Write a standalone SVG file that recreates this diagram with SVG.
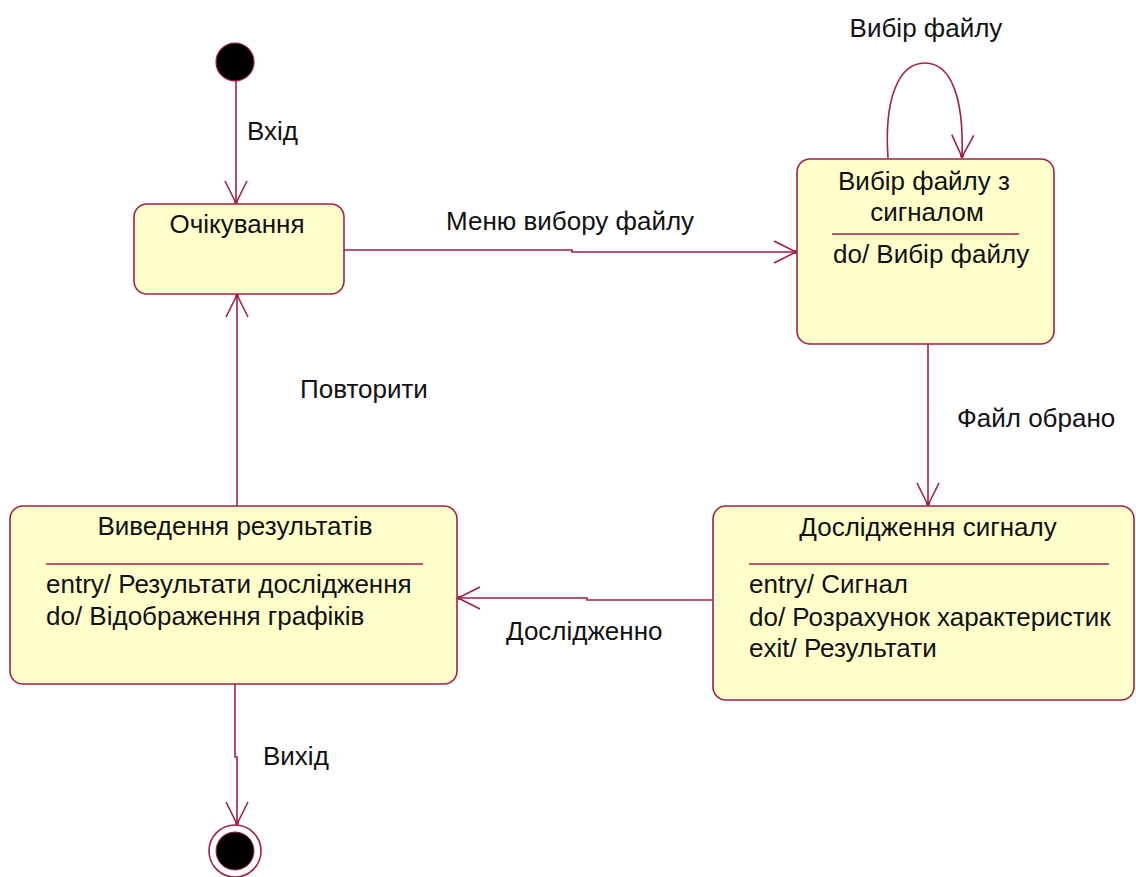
<svg xmlns="http://www.w3.org/2000/svg" width="1136" height="877" viewBox="0 0 1136 877">
<defs>
<style>
.st{fill:#FFFFCC;stroke:#A0204A;stroke-width:1.6}
.sep{stroke:#A0204A;stroke-width:1.6}
.cn{fill:none;stroke:#A0204A;stroke-width:1.6}
text{font-family:"Liberation Sans",Arial,sans-serif;font-size:26px;fill:#111}
.c{text-anchor:middle}
</style>
<marker id="arr" markerUnits="userSpaceOnUse" viewBox="-25 -15 30 30" refX="0" refY="0" markerWidth="30" markerHeight="30" orient="auto">
<path d="M-22,-11 L0,0 L-22,11" fill="none" stroke="#A0204A" stroke-width="1.6"/>
<circle cx="-1" cy="0" r="2" fill="#A0204A"/>
</marker>
</defs>
<rect width="1136" height="877" fill="#fff"/>
<g id="connectors">
<path class="cn" d="M236,80 L236,203" marker-end="url(#arr)"/>
<path class="cn" d="M344,250 L572,250 L572,252 L796,252" marker-end="url(#arr)"/>
<path class="cn" d="M888,158 C884,100 898,63 925,63 C952,63 964,100 962,157" marker-end="url(#arr)"/>
<path class="cn" d="M928,344 L928,505" marker-end="url(#arr)"/>
<path class="cn" d="M713,600 L587,600 L587,598 L458,598" marker-end="url(#arr)"/>
<path class="cn" d="M237,506 L237,295" marker-end="url(#arr)"/>
<path class="cn" d="M235,684 L235,757 L237,757 L237,824" marker-end="url(#arr)"/>
<text x="247" y="140">Вхід</text>
<text x="446" y="230">Меню вибору файлу</text>
<text x="926" y="37" class="c">Вибір файлу</text>
<text x="957" y="427">Файл обрано</text>
<text x="506" y="640">Дослідженно</text>
<text x="300" y="398">Повторити</text>
<text x="263" y="765">Вихід</text>
</g>
<g id="initial">
<circle cx="235" cy="62" r="19" fill="#000" stroke="#A0204A" stroke-width="1.2"/>
</g>
<g id="ochikuvannia">
<rect class="st" x="134" y="204" width="210" height="90" rx="13"/>
<text x="237" y="233" class="c">Очікування</text>
</g>
<g id="vybir">
<rect class="st" x="797" y="159" width="257" height="185" rx="13"/>
<text x="924" y="190" class="c">Вибір файлу з</text>
<text x="927" y="221" class="c">сигналом</text>
<line class="sep" x1="832" y1="234" x2="1019" y2="234"/>
<text x="833" y="263">do/ Вибір файлу</text>
</g>
<g id="doslidzhennia">
<rect class="st" x="713" y="506" width="421" height="194" rx="13"/>
<text x="928" y="536" class="c">Дослідження сигналу</text>
<line class="sep" x1="749" y1="564" x2="1109" y2="564"/>
<text x="749" y="593">entry/ Сигнал</text>
<text x="749" y="626">do/ Розрахунок характеристик</text>
<text x="749" y="657">exit/ Результати</text>
</g>
<g id="vyvedennia">
<rect class="st" x="10" y="506" width="447" height="178" rx="13"/>
<text x="235" y="535" class="c">Виведення результатів</text>
<line class="sep" x1="46" y1="564" x2="423" y2="564"/>
<text x="46" y="593">entry/ Результати дослідження</text>
<text x="46" y="625">do/ Відображення графіків</text>
</g>
<g id="final">
<circle cx="235" cy="851" r="26" fill="#fff" stroke="#A0204A" stroke-width="1.6"/>
<circle cx="235" cy="851" r="19" fill="#000" stroke="#A0204A" stroke-width="1"/>
</g>
</svg>
